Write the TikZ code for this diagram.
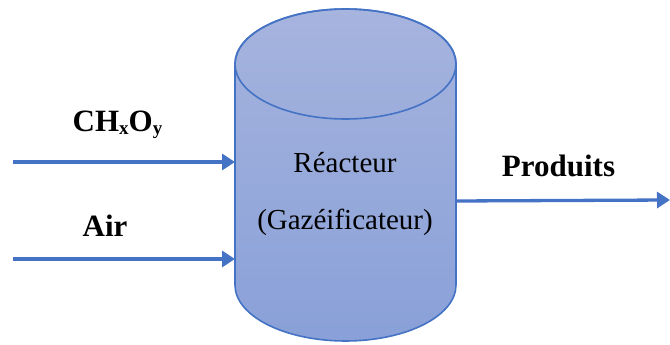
\documentclass[tikz,border=0pt]{standalone}
\usepackage{fontspec}
\setmainfont{Liberation Serif}
\usetikzlibrary{arrows.meta}
\definecolor{edgeblue}{RGB}{68,114,196}
\definecolor{filltop}{RGB}{166,180,222}
\definecolor{fillbot}{RGB}{137,160,216}
\tikzset{
  flow/.style={draw=edgeblue,line width=3.3pt,-{Triangle[length=13pt,width=16pt]}},
  biglabel/.style={font=\fontsize{31}{31}\selectfont\bfseries,anchor=base,inner sep=0pt},
  reactlabel/.style={font=\fontsize{29}{29}\selectfont,anchor=base,inner sep=0pt},
}
\newcommand{\mysub}[1]{\raisebox{-3pt}{\fontsize{19}{19}\selectfont #1}}
\begin{document}
\begin{tikzpicture}[x=1pt,y=1pt]
\useasboundingbox (0,0) rectangle (670,345);
% cylinder body
\shade[top color=filltop,bottom color=fillbot,draw=edgeblue,line width=1.6pt]
  (235,281) -- (235,60) arc[start angle=180,end angle=360,x radius=110.5,y radius=56]
  -- (456,281) arc[start angle=0,end angle=180,x radius=110.5,y radius=55] -- cycle;
\draw[edgeblue,line width=1.6pt] (345.5,281) ellipse[x radius=110.5,y radius=55];
% connection points
\coordinate (fuelIn) at (235,183);
\coordinate (airIn) at (235,86);
\coordinate (prodOut) at (456,144);
\coordinate (fuelSrc) at (13,183);
\coordinate (airSrc) at (13,86);
\coordinate (prodEnd) at (670,145);
\draw[flow] (fuelSrc) -- (fuelIn);
\draw[flow] (airSrc) -- (airIn);
\draw[flow] (prodOut) -- (prodEnd);
% labels
\node[biglabel] (fuel) at (117.5,213) {CH\mysub{x}O\mysub{y}};
\node[biglabel] (air) at (105,108) {Air};
\node[biglabel] (prod) at (558.5,168) {Produits};
\node[reactlabel] (react) at (345,172) {Réacteur};
\node[reactlabel] (gaz) at (345,115) {(Gazéificateur)};
\end{tikzpicture}
\end{document}
